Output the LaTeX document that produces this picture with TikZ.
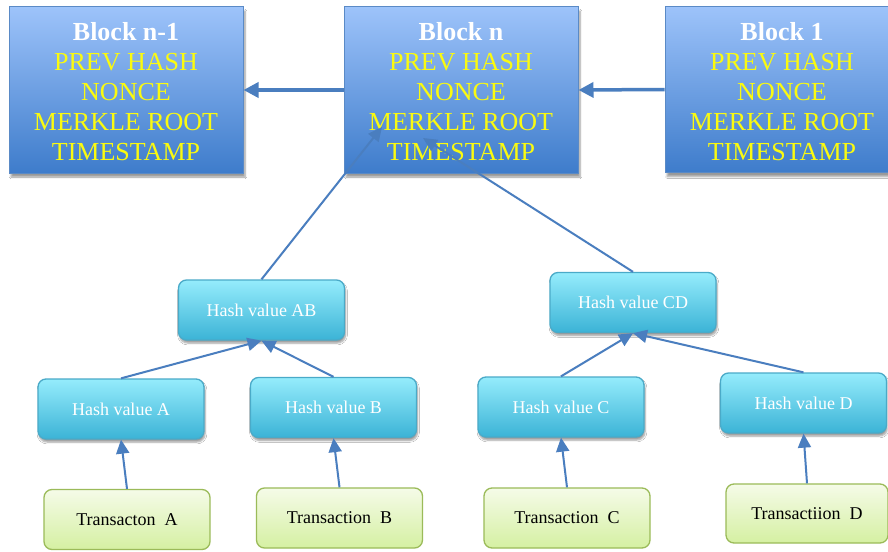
\documentclass[tikz,border=0pt]{standalone}
\usepackage{fontspec}
\setmainfont{Liberation Serif}
\usetikzlibrary{arrows.meta,shadows.blur}
\definecolor{blocktop}{HTML}{9DC3FA}
\definecolor{blockbot}{HTML}{3E7CCB}
\definecolor{blockline}{HTML}{5A8AC6}
\definecolor{hashtop}{HTML}{95ECFC}
\definecolor{hashbot}{HTML}{3BB3D6}
\definecolor{hashline}{HTML}{4AAAC8}
\definecolor{trtop}{HTML}{F5FBE8}
\definecolor{trbot}{HTML}{D5F0A2}
\definecolor{trline}{HTML}{9BBB59}
\definecolor{arrowc}{HTML}{4A7EBF}
\definecolor{ylw}{HTML}{FAFA10}
\tikzset{
  blockbox/.style={draw=blockline, line width=1pt, top color=blocktop, bottom color=blockbot,
    minimum width=234pt, minimum height=166pt, inner sep=0pt, align=center, text=ylw,
    font=\fontsize{26}{30}\selectfont,
    blur shadow={shadow xshift=2pt, shadow yshift=-4pt, shadow blur steps=6, shadow opacity=40}},
  hashbox/.style={draw=hashline, line width=1.3pt, rounded corners=8pt, top color=hashtop, bottom color=hashbot,
    minimum width=166pt, minimum height=60pt, inner sep=0pt, text=white,
    font=\fontsize{18}{20}\selectfont,
    blur shadow={shadow xshift=1pt, shadow yshift=-3pt, shadow blur steps=5, shadow opacity=40}},
  trbox/.style={draw=trline, line width=1.3pt, rounded corners=8pt, top color=trtop, bottom color=trbot,
    minimum width=166pt, minimum height=60pt, inner sep=0pt, text=black,
    font=\fontsize{18}{20}\selectfont},
  chain/.style={draw=arrowc, line width=3.5pt, -{Triangle[length=15pt,width=15pt]}},
  link/.style={draw=arrowc, line width=2pt, -{Triangle[length=14pt,width=13pt]}},
}
\newcommand{\blocktext}[1]{\rule{0pt}{22pt}{\bfseries\color{white}#1}\\PREV HASH\\NONCE\\MERKLE ROOT\\TIMESTAMP}
\begin{document}
\begin{tikzpicture}[x=1pt,y=-1pt]
\useasboundingbox (0,0) rectangle (888,551);
\fill[white] (0,0) rectangle (888,551);
% blocks
\node[blockbox] (bnm1) at (126,90) {\blocktext{Block n-1}};
\node[blockbox] (bn) at (461,90) {\blocktext{Block n}};
\node[blockbox] (b1) at (782,89.5) {\blocktext{Block 1}};
% hash nodes
\node[hashbox] (hab) at (261.5,310) {Hash value AB};
\node[hashbox] (hcd) at (633,302.5) {Hash value CD};
\node[hashbox] (ha) at (121,409) {Hash value A};
\node[hashbox] (hb) at (333.5,407.5) {Hash value B};
\node[hashbox] (hc) at (561,407) {Hash value C};
\node[hashbox] (hd) at (803.5,403) {Hash value D};
% transactions
\node[trbox] (ta) at (127,519.5) {Transacton~~A};
\node[trbox] (tb) at (339.5,518) {Transaction~~B};
\node[trbox] (tc) at (567,518) {Transaction~~C};
\node[trbox, minimum width=162pt, minimum height=59pt] (td) at (807,513.5) {Transactiion~~D};
% entry points inside block n
\coordinate (mrA) at (382,127);
\coordinate (mrB) at (423,138);
% connectors
\draw[chain] (bn.west) -- (bnm1.east);
\draw[chain] (b1.west) -- (bn.east);
\draw[link] (ta.north) -- (ha.south);
\draw[link] (tb.north) -- (hb.south);
\draw[link] (tc.north) -- (hc.south);
\draw[link] (td.north) -- (hd.south);
\draw[link] (ha.north) -- (hab.south);
\draw[link] (hb.north) -- (hab.south);
\draw[link] (hc.north) -- (hcd.south);
\draw[link] (hd.north) -- (hcd.south);
\draw[link] (hab.north) -- (mrA);
\draw[link] (hcd.north) -- (mrB);
\end{tikzpicture}
\end{document}
